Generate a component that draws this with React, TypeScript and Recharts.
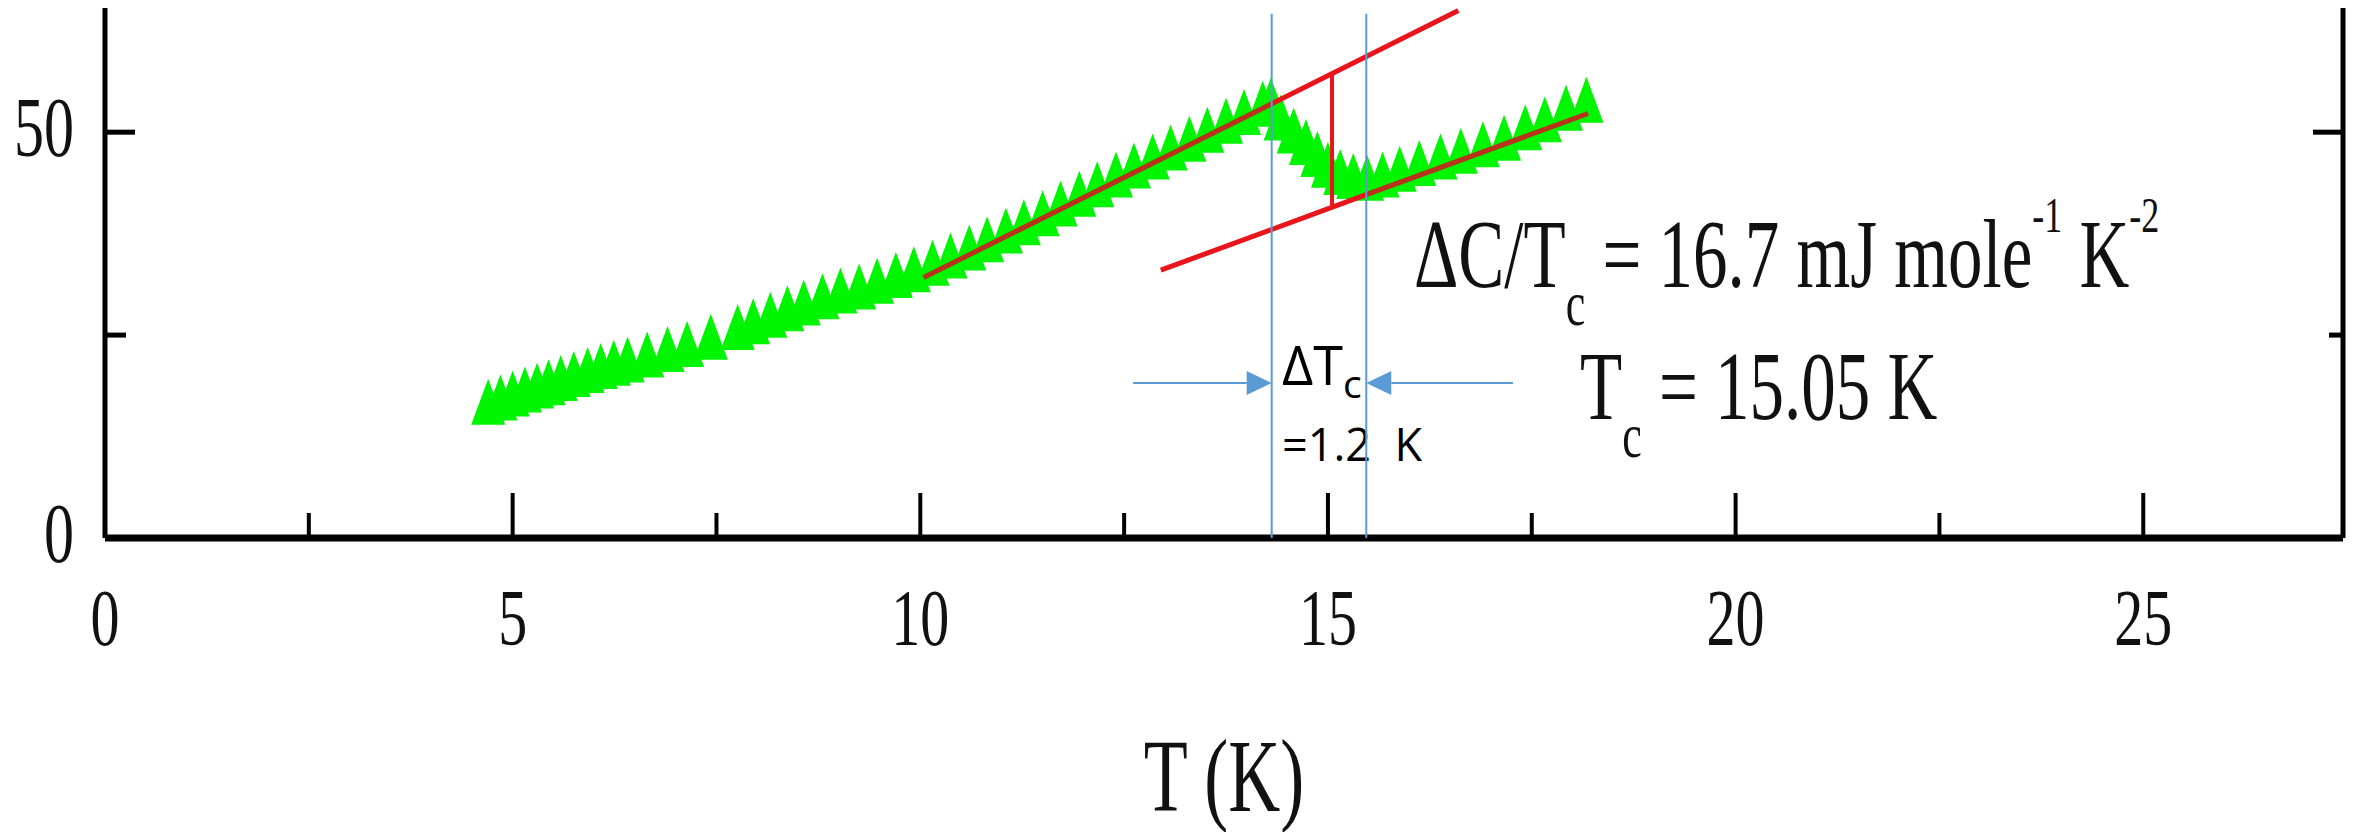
import React from "react";
import { ScatterChart, Scatter, XAxis, YAxis, ReferenceLine } from "recharts";

// C/T (mJ mol^-1 K^-2) against T (K)
const temperature = [
  4.7, 4.85, 5.0, 5.15, 5.3, 5.44, 5.59, 5.75, 5.92, 6.08, 6.24, 6.41, 6.65, 6.9, 7.14, 7.43, 7.76, 7.95,
  8.16, 8.37, 8.57, 8.8, 9.02, 9.25, 9.47, 9.7, 9.92, 10.15, 10.37, 10.6, 10.82, 11.05, 11.27, 11.5, 11.72,
  11.95, 12.17, 12.4, 12.62, 12.85, 13.07, 13.3, 13.52, 13.75, 13.97, 14.2, 14.3, 14.42, 14.58, 14.73, 14.87,
  15.0, 15.15, 15.31, 15.48, 15.67, 15.88, 16.12, 16.38, 16.63, 16.9, 17.16, 17.42, 17.66, 17.92, 18.17,
];
const cOverT = [
  16.8, 17.3, 17.8, 18.3, 18.8, 19.2, 19.7, 20.2, 20.7, 21.2, 21.6, 22.0, 22.6, 23.3, 23.9, 24.8, 26.0, 26.7,
  27.5, 28.3, 29.0, 29.8, 30.5, 31.0, 31.7, 32.4, 33.1, 33.9, 34.8, 35.8, 36.8, 37.9, 38.9, 40.0, 41.2,
  42.4, 43.6, 44.8, 45.9, 47.0, 48.1, 49.2, 50.3, 51.4, 52.5, 53.5, 53.9, 51.8, 50.2, 48.8, 47.3,
  46.0, 45.1, 44.6, 44.4, 44.8, 45.5, 46.2, 47.0, 47.7, 48.5, 49.3, 50.6, 51.6, 53.0, 54.0,
];

const xTicks = [0, 2.5, 5, 7.5, 10, 12.5, 15, 17.5, 20, 22.5, 25];
const xLabelled = [0, 5, 10, 15, 20, 25];
const yTicks = [0, 25, 50];
const yLabelled = [0, 50];

// fit lines (T, C/T); the part lying on the data is darker in the picture
const upperFitOnData = [
  { t: 10.04, c: 32.1 },
  { t: 14.31, c: 53.5 },
];
const upperFitBeyond = [
  { t: 14.31, c: 53.5 },
  { t: 16.6, c: 65.0 },
];
const lowerFitBeyond = [
  { t: 12.95, c: 33.0 },
  { t: 15.47, c: 42.3 },
];
const lowerFitOnData = [
  { t: 15.47, c: 42.3 },
  { t: 18.19, c: 52.3 },
];
const jumpAtTc = [
  { t: 15.05, c: 41.0 },
  { t: 15.05, c: 57.3 },
];
const deltaTcEdges = [14.31, 15.47];
const edgeTop = 64.6;
const arrowLevel = 19.1;
const leftArrow = [12.61, 14.31];
const rightArrow = [17.27, 15.47];

const points = temperature.map((t, i) => ({ t, c: cOverT[i] }));

const SERIF = '"Liberation Serif", "Times New Roman", serif';
const SANS = '"Open Sans", "Noto Sans", sans-serif';
const RED = "#e8161c";
const DARK_RED = "#b8321c";
const BLUE = "#5b9bd5";
const GREEN = "#00f500";

const Triangle = (props: any) => {
  const { cx, cy } = props;
  return <polygon points={`${cx},${cy - 23} ${cx + 17},${cy + 23} ${cx - 17},${cy + 23}`} fill={GREEN} />;
};

const NoMark = () => <g />;

const BottomTick = (props: any) => {
  const { x, y, payload } = props;
  const v = payload.value;
  const major = xLabelled.includes(v);
  return (
    <g>
      {v > 0 && <line x1={x} y1={y} x2={x} y2={y - (major ? 45 : 25)} stroke="#000" strokeWidth={4} />}
      {major && (
        <text transform={`translate(${x} ${y + 107}) scale(1 1.4)`} textAnchor="middle" fontFamily={SERIF} fontSize={58} fill="#111">
          {v}
        </text>
      )}
    </g>
  );
};

const LeftTick = (props: any) => {
  const { x, y, payload } = props;
  const v = payload.value;
  const major = v === 50;
  return (
    <g>
      {v > 0 && <line x1={x} y1={y} x2={x + (major ? 30 : 21)} y2={y} stroke="#000" strokeWidth={5} />}
      {yLabelled.includes(v) && (
        <text transform={`translate(${x - 31} ${y + 24}) scale(1 1.4)`} textAnchor="end" fontFamily={SERIF} fontSize={60} fill="#111">
          {v}
        </text>
      )}
    </g>
  );
};

const RightTick = (props: any) => {
  const { x, y, payload } = props;
  const v = payload.value;
  if (v === 0) return <g />;
  return <line x1={x} y1={y} x2={x - (v === 50 ? 30 : 14)} y2={y} stroke="#000" strokeWidth={5} />;
};

const Arrow = (props: any) => {
  const { x1, y1, x2, y2 } = props;
  const dx = x2 - x1;
  const dy = y2 - y1;
  const len = Math.hypot(dx, dy) || 1;
  const ux = dx / len;
  const uy = dy / len;
  const head = 25;
  const half = 12;
  const bx = x2 - ux * head;
  const by = y2 - uy * head;
  return (
    <g>
      <line x1={x1} y1={y1} x2={bx} y2={by} stroke={BLUE} strokeWidth={2} />
      <polygon
        points={`${x2},${y2} ${bx - uy * half},${by + ux * half} ${bx + uy * half},${by - ux * half}`}
        fill={BLUE}
      />
    </g>
  );
};

const lineSeries = (data: any[], color: string, width: number, key: string) => (
  <Scatter
    key={key}
    data={data}
    dataKey="c"
    fill={color}
    stroke={color}
    line={{ stroke: color, strokeWidth: width }}
    shape={NoMark}
    isAnimationActive={false}
  />
);

export default function App() {
  return (
    <ScatterChart width={2345} height={824} margin={{ top: 0, right: 0, bottom: 0, left: 0 }}>
      <XAxis
        type="number"
        dataKey="t"
        domain={[0, 27.45]}
        ticks={xTicks}
        interval={0}
        allowDataOverflow
        height={294}
        tickSize={0}
        tickMargin={0}
        tickLine={false}
        axisLine={{ stroke: "#000", strokeWidth: 7 }}
        tick={(p: any) => <BottomTick {...p} />}
      />
      <YAxis
        type="number"
        dataKey="c"
        domain={[0, 65.3]}
        ticks={yTicks}
        interval={0}
        allowDataOverflow
        width={97}
        tickSize={0}
        tickMargin={0}
        tickLine={false}
        axisLine={{ stroke: "#000", strokeWidth: 5 }}
        tick={(p: any) => <LeftTick {...p} />}
      />
      <YAxis
        yAxisId="right"
        orientation="right"
        type="number"
        domain={[0, 65.3]}
        ticks={yTicks}
        interval={0}
        allowDataOverflow
        width={10}
        tickSize={0}
        tickMargin={0}
        tickLine={false}
        axisLine={{ stroke: "#000", strokeWidth: 5 }}
        tick={(p: any) => <RightTick {...p} />}
      />
      <Scatter data={points} dataKey="c" fill={GREEN} shape={Triangle} isAnimationActive={false} />

      {lineSeries(upperFitOnData, DARK_RED, 5, "u1")}
      {lineSeries(upperFitBeyond, RED, 5, "u2")}
      {lineSeries(lowerFitBeyond, RED, 5, "l1")}
      {lineSeries(lowerFitOnData, DARK_RED, 5, "l2")}
      {lineSeries(jumpAtTc, RED, 4, "j")}
      {deltaTcEdges.map((t) =>
        lineSeries(
          [
            { t, c: 0 },
            { t, c: edgeTop },
          ],
          BLUE,
          2,
          `e${t}`
        )
      )}

      <ReferenceLine
        segment={[
          { x: leftArrow[0], y: arrowLevel },
          { x: leftArrow[1], y: arrowLevel },
        ]}
        shape={Arrow}
      />
      <ReferenceLine
        segment={[
          { x: rightArrow[0], y: arrowLevel },
          { x: rightArrow[1], y: arrowLevel },
        ]}
        shape={Arrow}
      />

      <text transform="translate(1406 279) scale(1 1.42)" fontFamily={SERIF} fontSize={69} fill="#111">
        ΔC/T
        <tspan fontSize={44} dy={27}>c</tspan>
        <tspan fontSize={69} dy={-27}> = 16.7 mJ mole</tspan>
        <tspan fontSize={36} dy={-39}>-1</tspan>
        <tspan fontSize={69} dy={39}> K</tspan>
        <tspan fontSize={36} dy={-39}>-2</tspan>
      </text>
      <text transform="translate(1572 411) scale(1 1.42)" fontFamily={SERIF} fontSize={69} fill="#111">
        T<tspan fontSize={44} dy={27}>c</tspan>
        <tspan fontSize={69} dy={-27}> = 15.05 K</tspan>
      </text>
      <text x={1274} y={377} fontFamily={SANS} fontSize={54} fill="#000">
        ΔT<tspan fontSize={39} dy={13}>c</tspan>
      </text>
      <text x={1274} y={453} fontFamily={SANS} fontSize={45} fill="#000" style={{ whiteSpace: "pre" }}>
        =1.2  K
      </text>
      <text transform="translate(1216 803) scale(1 1.45)" textAnchor="middle" fontFamily={SERIF} fontSize={72} fill="#111">
        T (K)
      </text>
    </ScatterChart>
  );
}
